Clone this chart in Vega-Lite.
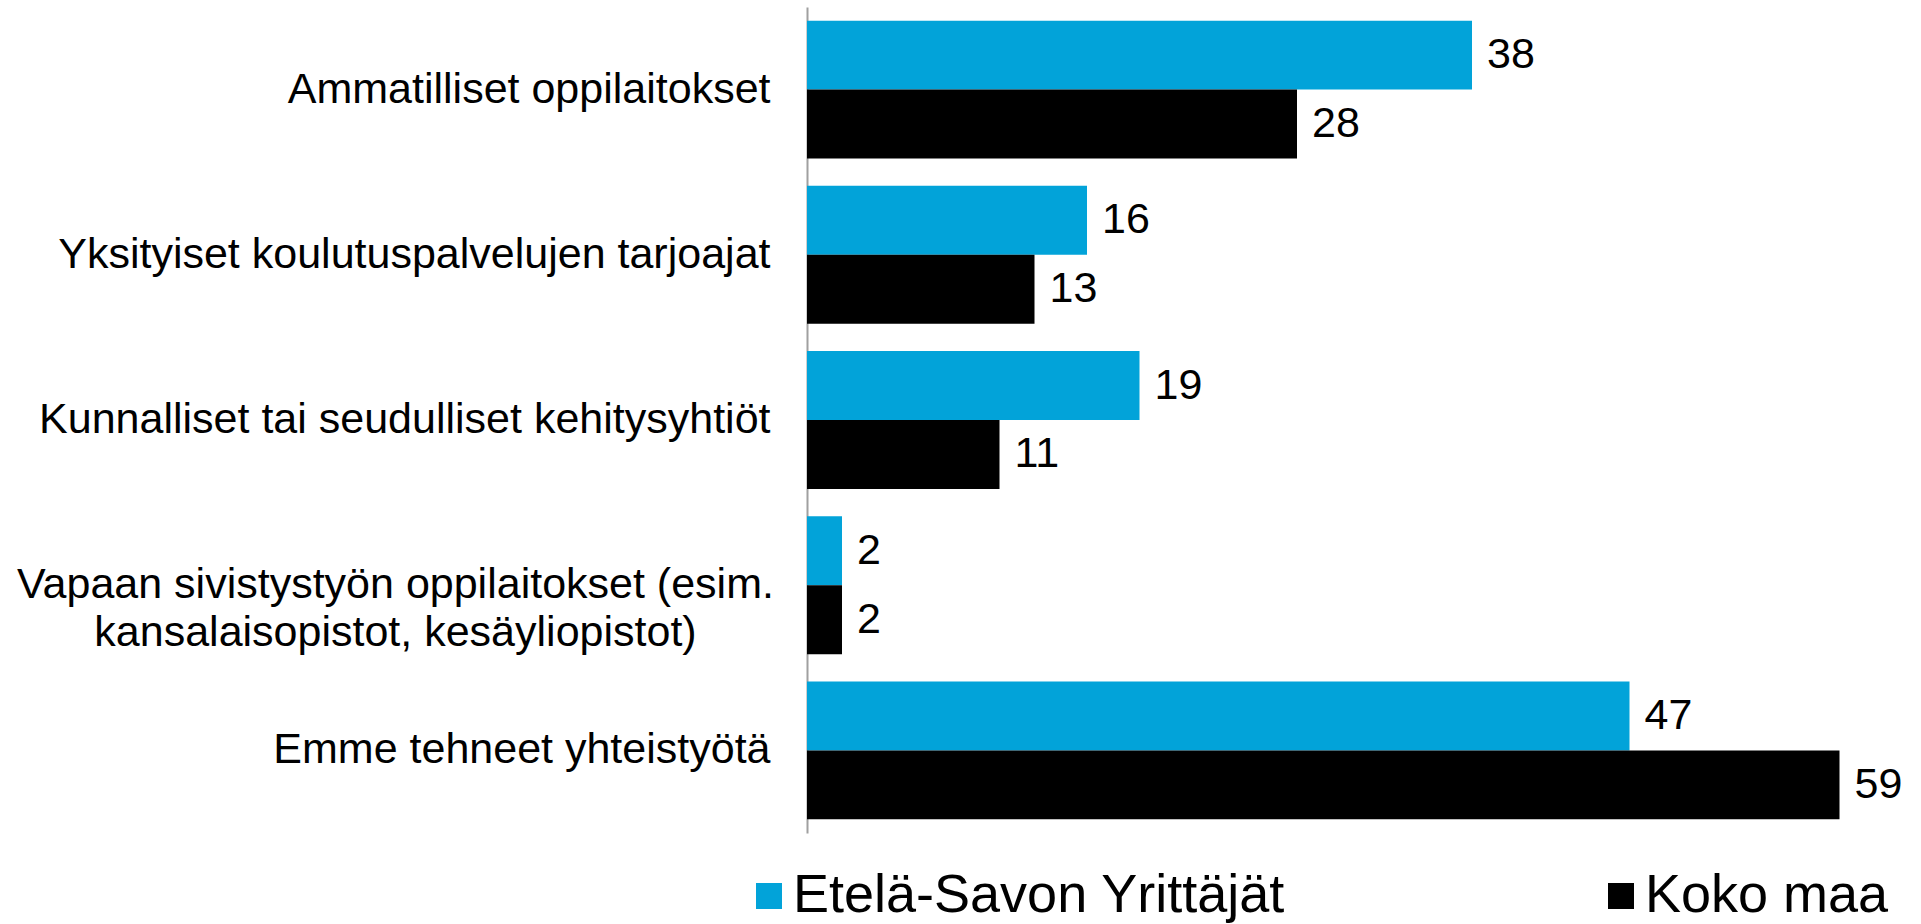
{
  "$schema": "https://vega.github.io/schema/vega-lite/v6.json",
  "autosize": "none",
  "padding": {"left": 807, "top": 7, "right": 64, "bottom": 91},
  "width": 1050,
  "height": 826,
  "background": "white",
  "config": {
    "view": {"stroke": null},
    "font": "Liberation Sans"
  },
  "data": {
    "values": [
      {"category": "Ammatilliset oppilaitokset", "series": "Etelä-Savon Yrittäjät", "value": 38},
      {"category": "Ammatilliset oppilaitokset", "series": "Koko maa", "value": 28},
      {"category": "Yksityiset koulutuspalvelujen tarjoajat", "series": "Etelä-Savon Yrittäjät", "value": 16},
      {"category": "Yksityiset koulutuspalvelujen tarjoajat", "series": "Koko maa", "value": 13},
      {"category": "Kunnalliset tai seudulliset kehitysyhtiöt", "series": "Etelä-Savon Yrittäjät", "value": 19},
      {"category": "Kunnalliset tai seudulliset kehitysyhtiöt", "series": "Koko maa", "value": 11},
      {"category": "Vapaan sivistystyön oppilaitokset (esim.\nkansalaisopistot, kesäyliopistot)", "series": "Etelä-Savon Yrittäjät", "value": 2},
      {"category": "Vapaan sivistystyön oppilaitokset (esim.\nkansalaisopistot, kesäyliopistot)", "series": "Koko maa", "value": 2},
      {"category": "Emme tehneet yhteistyötä", "series": "Etelä-Savon Yrittäjät", "value": 47},
      {"category": "Emme tehneet yhteistyötä", "series": "Koko maa", "value": 59}
    ]
  },
  "encoding": {
    "y": {
      "field": "category",
      "type": "nominal",
      "sort": null,
      "title": null,
      "scale": {"paddingInner": 0.165, "paddingOuter": 0.0825},
      "axis": {
        "domainColor": "#a0a0a0",
        "domainWidth": 2,
        "ticks": false,
        "labelFontSize": 43,
        "labelColor": "#000000",
        "labelFont": "Liberation Sans",
        "labelLimit": 0,
        "labelLineHeight": 48,
        "labelExpr": "split(datum.label, '\\n')",
        "labelAlign": {"condition": {"test": "indexof(datum.value, '\\n') >= 0", "value": "center"}, "value": "right"},
        "labelPadding": {"condition": {"test": "indexof(datum.value, '\\n') >= 0", "value": 412}, "value": 37}
      }
    },
    "yOffset": {"field": "series", "type": "nominal", "sort": ["Etelä-Savon Yrittäjät", "Koko maa"]},
    "x": {
      "field": "value",
      "type": "quantitative",
      "scale": {"domain": [0, 60], "nice": false},
      "axis": null
    }
  },
  "layer": [
    {
      "mark": {"type": "bar"},
      "encoding": {
        "color": {
          "field": "series",
          "type": "nominal",
          "sort": ["Etelä-Savon Yrittäjät", "Koko maa"],
          "scale": {"domain": ["Etelä-Savon Yrittäjät", "Koko maa"], "range": ["#02A3D9", "#000000"]},
          "legend": {
            "title": null,
            "orient": "none",
            "direction": "horizontal",
            "legendX": -65,
            "legendY": 862,
            "symbolType": "square",
            "symbolSize": 676,
            "symbolStrokeWidth": 0,
            "labelFontSize": 54,
            "labelFont": "Liberation Sans",
            "labelColor": "#000000",
            "labelOffset": -3,
            "labelLimit": 0,
            "columnPadding": 308,
            "padding": 0
          }
        }
      }
    },
    {
      "mark": {"type": "text", "align": "left", "baseline": "middle", "dx": 15, "fontSize": 43, "font": "Liberation Sans", "color": "#000000"},
      "encoding": {
        "text": {"field": "value", "type": "quantitative"}
      }
    }
  ]
}
